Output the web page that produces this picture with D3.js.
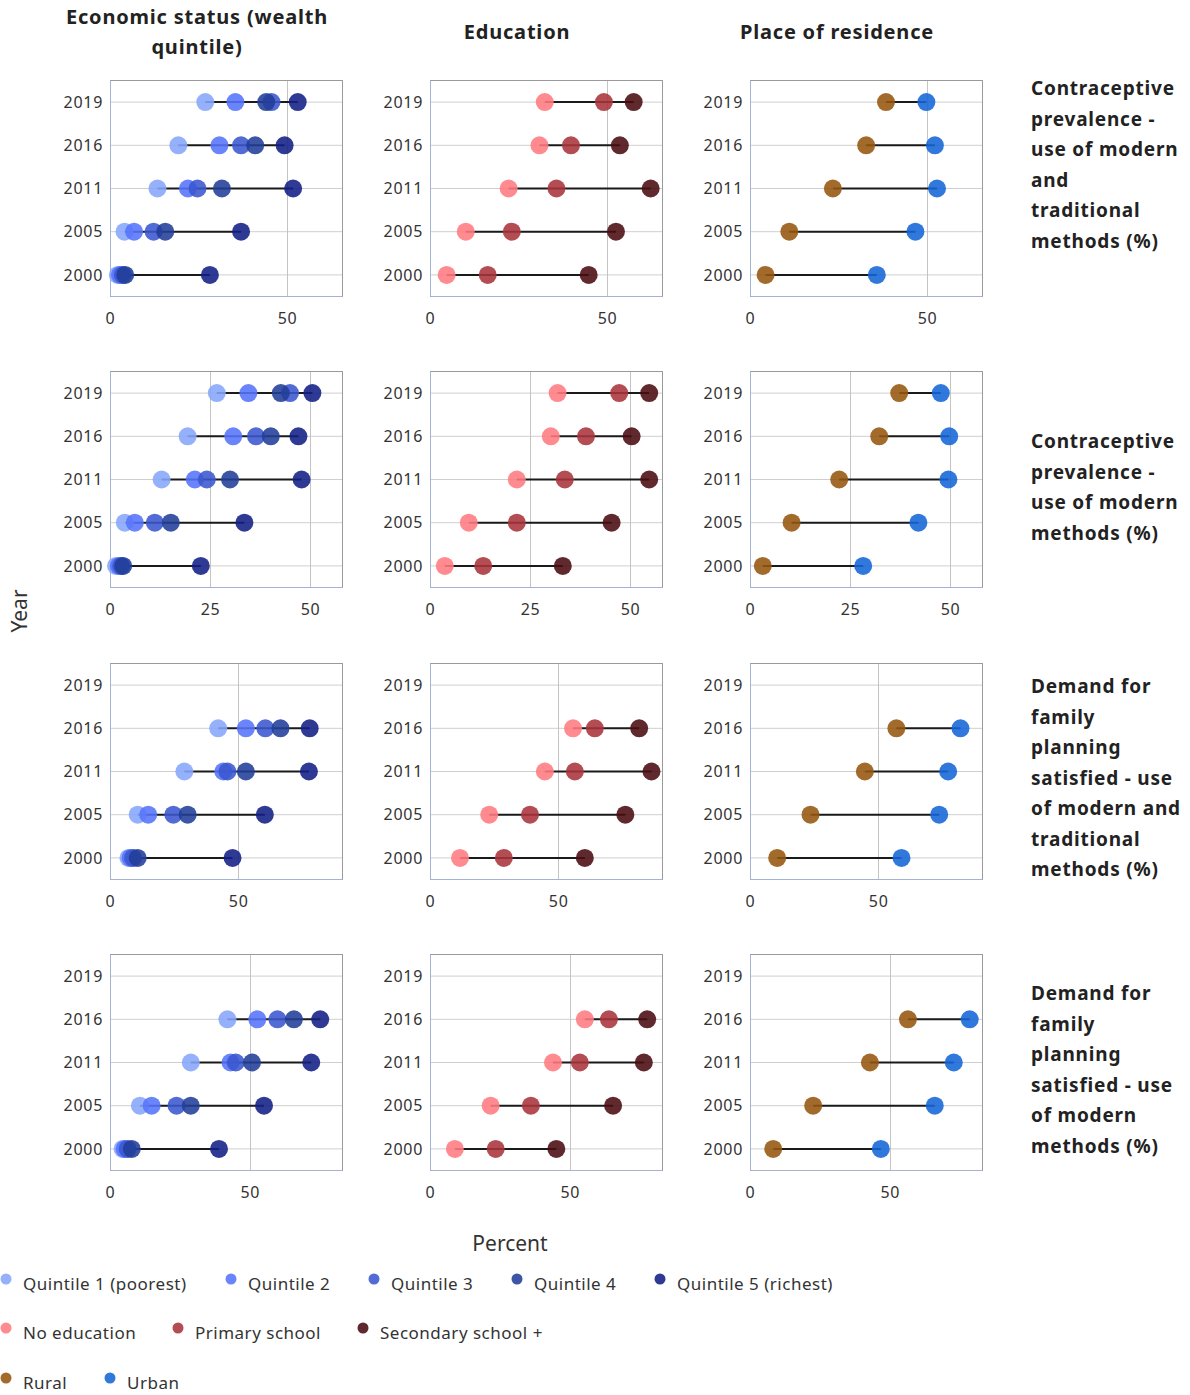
<!DOCTYPE html>
<html>
<head>
<meta charset="utf-8">
<script src="https://cdn.jsdelivr.net/npm/d3@7"></script>
<style>
  body { margin: 0; background: #fff; }
  svg { font-family: "Noto Sans", sans-serif; }
</style>
</head>
<body>
<div id="chart"></div>
<script>
// categories
var years = ["2019", "2016", "2011", "2005", "2000"];
var quintiles = ["Quintile 1 (poorest)", "Quintile 2", "Quintile 3", "Quintile 4", "Quintile 5 (richest)"];
var eduLevels = ["No education", "Primary school", "Secondary school +"];
var residence = ["Rural", "Urban"];

var colTitles = [["Economic status (wealth", "quintile)"], ["Education"], ["Place of residence"]];
var rowTitles = [
  ["Contraceptive", "prevalence -", "use of modern", "and", "traditional", "methods (%)"],
  ["Contraceptive", "prevalence -", "use of modern", "methods (%)"],
  ["Demand for", "family", "planning", "satisfied - use", "of modern and", "traditional", "methods (%)"],
  ["Demand for", "family", "planning", "satisfied - use", "of modern", "methods (%)"]
];

// values by year (2019, 2016, 2011, 2005, 2000), one entry per group
var cprAnyWealth = [[26.9, 35.4, 45.6, 44.1, 53.0], [19.3, 30.9, 37.0, 41.0, 49.3], [13.4, 22.0, 24.7, 31.6, 51.7], [4.1, 6.8, 12.3, 15.6, 37.0], [2.2, 2.8, 3.6, 4.3, 28.2]];
var cprAnyEdu = [[32.4, 49.1, 57.5], [30.9, 39.8, 53.6], [22.2, 35.7, 62.3], [10.1, 23.1, 52.5], [4.7, 16.3, 44.8]];
var cprAnyRes = [[38.4, 49.8], [32.8, 52.2], [23.4, 52.8], [11.1, 46.7], [4.4, 35.8]];

var cprModWealth = [[26.7, 34.6, 45.0, 42.7, 50.6], [19.4, 30.8, 36.5, 40.2, 47.1], [12.9, 21.2, 24.2, 30.0, 47.9], [3.7, 6.2, 11.2, 15.2, 33.6], [1.5, 2.2, 2.8, 3.3, 22.7]];
var cprModEdu = [[31.9, 47.3, 54.8], [30.2, 39.0, 50.4], [21.7, 33.7, 54.8], [9.7, 21.7, 45.4], [3.7, 13.3, 33.2]];
var cprModRes = [[37.3, 47.7], [32.3, 49.8], [22.3, 49.6], [10.4, 42.1], [3.2, 28.3]];

var dfpsAnyWealth = [null, [42.2, 53.0, 60.6, 66.5, 77.9], [29.0, 44.2, 45.8, 53.0, 77.6], [10.8, 14.9, 24.7, 30.3, 60.4], [7.2, 8.0, 9.0, 10.8, 47.8]];
var dfpsAnyEdu = [null, [55.8, 64.3, 81.6], [44.8, 56.5, 86.4], [23.1, 39.0, 76.2], [11.7, 28.8, 60.4]];
var dfpsAnyRes = [null, [57.1, 82.1], [44.8, 77.3], [23.6, 73.8], [10.6, 59.1]];

var dfpsModWealth = [null, [42.0, 52.7, 59.9, 65.8, 75.2], [28.9, 43.1, 45.0, 50.8, 72.0], [10.7, 14.9, 23.8, 28.9, 55.1], [4.5, 5.2, 6.3, 7.8, 39.0]];
var dfpsModEdu = [null, [55.4, 64.0, 77.7], [44.0, 53.6, 76.5], [21.7, 36.1, 65.5], [8.9, 23.5, 45.2]];
var dfpsModRes = [null, [56.5, 78.6], [42.9, 72.9], [22.6, 66.1], [8.3, 46.8]];

var panels = [
  [cprAnyWealth, cprAnyEdu, cprAnyRes],
  [cprModWealth, cprModEdu, cprModRes],
  [dfpsAnyWealth, dfpsAnyEdu, dfpsAnyRes],
  [dfpsModWealth, dfpsModEdu, dfpsModRes]
];

// axis extent and ticks per row
var xMax = [65.5, 58, 90.5, 83];
var xTicks = [[0, 50], [0, 25, 50], [0, 50], [0, 50]];

// colours
var wealthColors = ["#86a6fb", "#5573fb", "#3a56cf", "#213d97", "#121f86"];
var eduColors = ["#ff7b81", "#a9343b", "#4a0b10"];
var resColors = ["#95560f", "#1565d8"];
var groupNames = [quintiles, eduLevels, residence];
var groupColors = [wealthColors, eduColors, resColors];

// layout
var colLeft = [110, 430, 750];
var rowTop = [80, 371, 663, 954];
var pw = 232, ph = 216;

var svg = d3.select("#chart").append("svg")
  .attr("width", 1190)
  .attr("height", 1395);

// column titles
colTitles.forEach(function(lines, c) {
  var t = svg.append("text")
    .attr("x", colLeft[c] + 87)
    .attr("text-anchor", "middle")
    .style("font-size", "20px")
    .style("font-weight", "bold")
    .style("letter-spacing", "0.8px")
    .attr("fill", "#222");
  var y0 = lines.length == 1 ? 39 : 24;
  lines.forEach(function(l, i) {
    t.append("tspan").attr("x", colLeft[c] + 87).attr("y", y0 + i * 30).text(l);
  });
});

// row titles
var rowFirstY = [95, 448, 693, 1000];
rowTitles.forEach(function(lines, r) {
  var t = svg.append("text")
    .style("font-size", "19px")
    .style("font-weight", "bold")
    .style("letter-spacing", "0.8px")
    .attr("fill", "#222");
  lines.forEach(function(l, i) {
    t.append("tspan").attr("x", 1031).attr("y", rowFirstY[r] + i * 30.5).text(l);
  });
});

// panels
panels.forEach(function(rowData, r) {
  var x = d3.scaleLinear().domain([0, xMax[r]]).range([0, pw]);
  var y = d3.scaleBand().domain(years).range([0, ph]);

  rowData.forEach(function(data, c) {
    var g = svg.append("g")
      .attr("transform", "translate(" + colLeft[c] + "," + rowTop[r] + ")");

    // horizontal grid
    g.selectAll(".hgrid")
      .data(years)
      .enter().append("line")
      .attr("x1", 0).attr("x2", pw)
      .attr("y1", function(d) { return y(d) + y.bandwidth() / 2 + 0.5; })
      .attr("y2", function(d) { return y(d) + y.bandwidth() / 2 + 0.5; })
      .attr("stroke", "#cfcfcf");

    // vertical grid
    g.selectAll(".vgrid")
      .data(xTicks[r].filter(function(d) { return d > 0; }))
      .enter().append("line")
      .attr("x1", function(d) { return Math.round(x(d)) + 0.5; })
      .attr("x2", function(d) { return Math.round(x(d)) + 0.5; })
      .attr("y1", 0).attr("y2", ph)
      .attr("stroke", "#c4c4c4");

    // frame
    g.append("rect")
      .attr("x", 0.5).attr("y", 0.5)
      .attr("width", pw).attr("height", ph)
      .attr("fill", "none")
      .attr("stroke", "#9a9a9a");
    g.append("path")
      .attr("d", "M0.5,0.5V" + (ph + 0.5) + "H" + (pw + 0.5))
      .attr("fill", "none")
      .attr("stroke", "#a4b2d6");

    // y axis
    var yAxis = g.append("g")
      .attr("transform", "translate(0,1)")
      .call(d3.axisLeft(y).tickSize(0).tickPadding(7));
    yAxis.select(".domain").remove();
    yAxis.selectAll("text")
      .style("font-size", "16px")
      .style("letter-spacing", "0.7px")
      .style("font-family", "Noto Sans, sans-serif")
      .attr("fill", "#333");

    // x axis
    var xAxis = g.append("g")
      .attr("transform", "translate(0," + ph + ")")
      .call(d3.axisBottom(x).tickValues(xTicks[r]).tickSize(0).tickPadding(17));
    xAxis.select(".domain").remove();
    xAxis.selectAll("text")
      .style("font-size", "16px")
      .style("letter-spacing", "0.7px")
      .style("font-family", "Noto Sans, sans-serif")
      .attr("fill", "#333");

    var rows = [];
    data.forEach(function(vals, i) {
      if (vals) rows.push({year: years[i], vals: vals});
    });

    // connectors
    g.selectAll(".conn")
      .data(rows)
      .enter().append("line")
      .attr("x1", function(d) { return x(d3.min(d.vals)); })
      .attr("x2", function(d) { return x(d3.max(d.vals)); })
      .attr("y1", function(d) { return y(d.year) + y.bandwidth() / 2 + 0.5; })
      .attr("y2", function(d) { return y(d.year) + y.bandwidth() / 2 + 0.5; })
      .attr("stroke", "#1a1a1a")
      .attr("stroke-width", 2);

    // dots, one series at a time
    groupNames[c].forEach(function(name, k) {
      g.selectAll(".dot" + k)
        .data(rows)
        .enter().append("circle")
        .attr("cx", function(d) { return x(d.vals[k]); })
        .attr("cy", function(d) { return y(d.year) + y.bandwidth() / 2 + 0.5; })
        .attr("r", 9)
        .attr("fill", groupColors[c][k])
        .style("opacity", 0.88);
    });
  });
});

// axis titles
svg.append("text")
  .attr("transform", "translate(27,611) rotate(-90)")
  .attr("text-anchor", "middle")
  .style("font-size", "21px")
  .attr("fill", "#333")
  .text("Year");

svg.append("text")
  .attr("x", 510).attr("y", 1251)
  .attr("text-anchor", "middle")
  .style("font-size", "21px")
  .attr("fill", "#333")
  .text("Percent");

// legend
var legendTextX = [[23, 248, 391, 534, 677], [23, 195, 380], [23, 127]];
var legendY = [1284, 1333, 1383];
groupNames.forEach(function(names, gi) {
  var lg = svg.append("g");
  names.forEach(function(name, k) {
    lg.append("circle")
      .attr("cx", legendTextX[gi][k] - 17)
      .attr("cy", legendY[gi] - 5)
      .attr("r", 5.5)
      .attr("fill", groupColors[gi][k])
      .style("opacity", 0.88);
    lg.append("text")
      .attr("x", legendTextX[gi][k])
      .attr("y", legendY[gi] + 6)
      .style("font-size", "17px")
      .style("letter-spacing", "0.5px")
      .attr("fill", "#333")
      .text(name);
  });
});
</script>
</body>
</html>
